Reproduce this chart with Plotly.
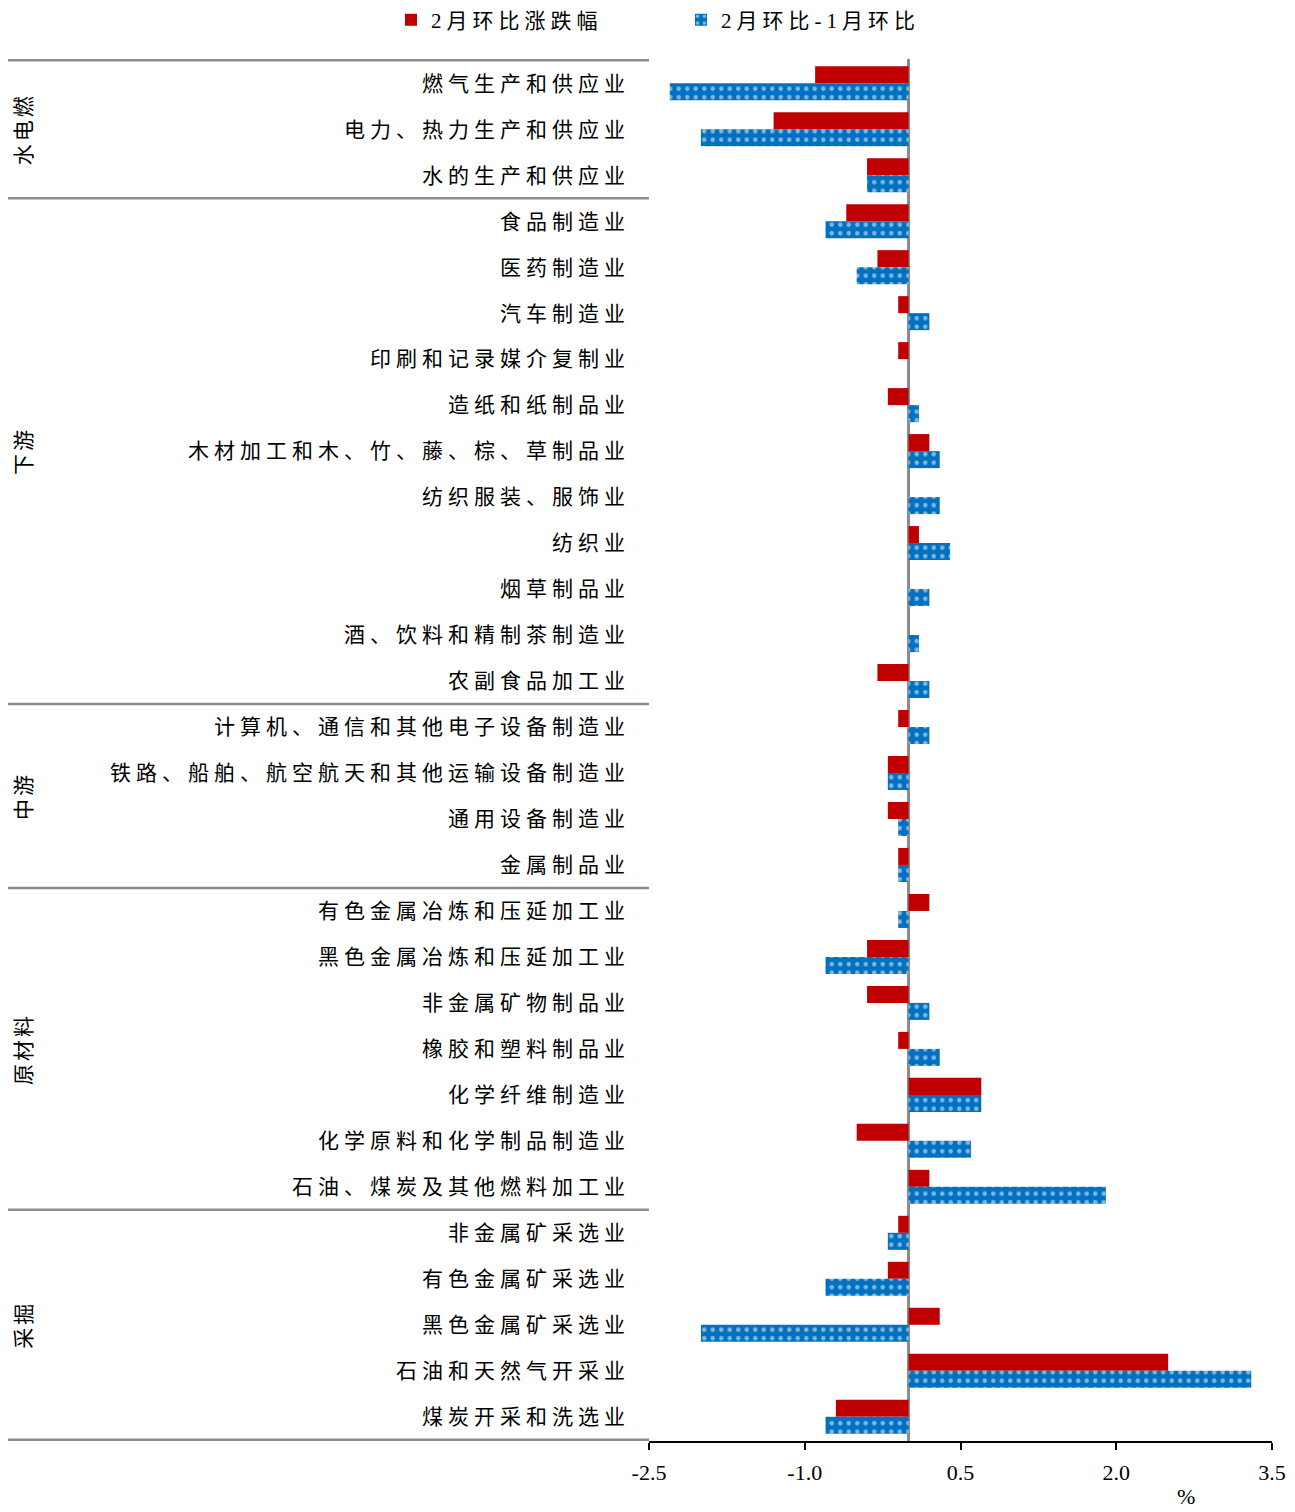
import plotly.graph_objects as go

categories = [
    "燃气生产和供应业", "电力、热力生产和供应业", "水的生产和供应业",
    "食品制造业", "医药制造业", "汽车制造业", "印刷和记录媒介复制业", "造纸和纸制品业",
    "木材加工和木、竹、藤、棕、草制品业", "纺织服装、服饰业", "纺织业", "烟草制品业",
    "酒、饮料和精制茶制造业", "农副食品加工业",
    "计算机、通信和其他电子设备制造业", "铁路、船舶、航空航天和其他运输设备制造业",
    "通用设备制造业", "金属制品业",
    "有色金属冶炼和压延加工业", "黑色金属冶炼和压延加工业", "非金属矿物制品业",
    "橡胶和塑料制品业", "化学纤维制造业", "化学原料和化学制品制造业", "石油、煤炭及其他燃料加工业",
    "非金属矿采选业", "有色金属矿采选业", "黑色金属矿采选业", "石油和天然气开采业", "煤炭开采和洗选业",
]
red_values = [
    -0.9, -1.3, -0.4,
    -0.6, -0.3, -0.1, -0.1, -0.2, 0.2, 0.0, 0.1, 0.0, 0.0, -0.3,
    -0.1, -0.2, -0.2, -0.1,
    0.2, -0.4, -0.4, -0.1, 0.7, -0.5, 0.2,
    -0.1, -0.2, 0.3, 2.5, -0.7,
]
blue_values = [
    -2.3, -2.0, -0.4,
    -0.8, -0.5, 0.2, 0.0, 0.1, 0.3, 0.3, 0.4, 0.2, 0.1, 0.2,
    0.2, -0.2, -0.1, -0.1,
    -0.1, -0.8, 0.2, 0.3, 0.7, 0.6, 1.9,
    -0.2, -0.8, -2.0, 3.3, -0.8,
]
groups = ["水电燃", "下游", "中游", "原材料", "采掘"]
group_sizes = [3, 11, 4, 7, 5]
series_names = ["2月环比涨跌幅", "2月环比-1月环比"]
x_ticks = [-2.5, -1.0, 0.5, 2.0, 3.5]

FONT = "Liberation Serif, Noto Sans CJK SC"
RED = "#C00000"
BLUE = "#0070C0"
GRAY = "#8C8C8C"

def spaced(t, sp=5):
    return '<span style="letter-spacing:%dpx">%s</span>' % (sp, t)

fig = go.Figure()
fig.add_trace(go.Bar(
    y=categories, x=red_values, orientation="h", name=spaced(series_names[0], 5),
    marker=dict(color=RED, line=dict(width=0)),
))
fig.add_trace(go.Bar(
    y=categories, x=blue_values, orientation="h", name=spaced(series_names[1], 5),
    marker=dict(color=BLUE, line=dict(width=0),
                pattern=dict(shape=".", fgcolor="white", bgcolor=BLUE, size=8.5, solidity=0.22)),
))

OFF = 8  # page body margin
PAGE_W, PAGE_H = 1295, 1512
W0, W1 = 649, 1272
T0, T1 = 59, 1441
PW = W1 - W0
PH = T1 - T0
def px2paper(x):
    return (x - W0) / PW
def py2paper(y):
    return (T1 - y) / PH

shapes = []
boundaries = [0]
for s in group_sizes:
    boundaries.append(boundaries[-1] + s)
for b in boundaries:
    shapes.append(dict(type="line", xref="paper", yref="y",
                       x0=px2paper(5), x1=0, y0=b - 0.5, y1=b - 0.5,
                       line=dict(color=GRAY, width=2.5)))

annotations = []
for g, a, b in zip(groups, boundaries[:-1], boundaries[1:]):
    annotations.append(dict(text=spaced(g, 3), xref="paper", yref="y",
                            x=px2paper(24), y=(a + b - 1) / 2, textangle=-90,
                            showarrow=False, font=dict(family=FONT, size=21, color="black"),
                            xanchor="center", yanchor="middle"))
annotations.append(dict(text="%", xref="paper", yref="paper", x=px2paper(1186), y=py2paper(1497),
                        showarrow=False, font=dict(family=FONT, size=22, color="black"),
                        xanchor="center", yanchor="middle"))

fig.update_layout(
    width=PAGE_W - OFF, height=PAGE_H - OFF,
    margin=dict(l=W0 - OFF, r=PAGE_W - W1, t=T0 - OFF, b=PAGE_H - T1, autoexpand=False),
    paper_bgcolor="white", plot_bgcolor="white",
    barmode="group", bargap=0.26, bargroupgap=0,
    font=dict(family=FONT, size=21, color="black"),
    showlegend=True,
    legend=dict(orientation="h", x=px2paper(391), xanchor="left", y=py2paper(20), yanchor="middle",
                font=dict(family=FONT, size=21, color="black"),
                entrywidth=245, entrywidthmode="pixels", itemwidth=30,
                bgcolor="rgba(0,0,0,0)"),
    shapes=shapes,
    annotations=annotations,
)
fig.update_xaxes(
    range=[-2.5, 3.5], tickmode="array", tickvals=x_ticks,
    ticktext=["%.1f" % v for v in x_ticks],
    showgrid=False, zeroline=True, zerolinecolor=GRAY, zerolinewidth=2.5,
    showline=True, linecolor="black", linewidth=2,
    ticks="outside", ticklen=7, tickwidth=2, tickcolor="black",
    ticklabelstandoff=4,
    tickfont=dict(family=FONT, size=22, color="black"),
    layer="above traces",
)
fig.update_yaxes(
    type="category", autorange="reversed",
    tickmode="array", tickvals=categories, ticktext=[spaced(c, 5) for c in categories],
    showgrid=False, zeroline=False, showline=False, ticks="",
    ticklabelstandoff=18,
    tickfont=dict(family=FONT, size=21, color="black"),
)
fig.write_html("out.html")
